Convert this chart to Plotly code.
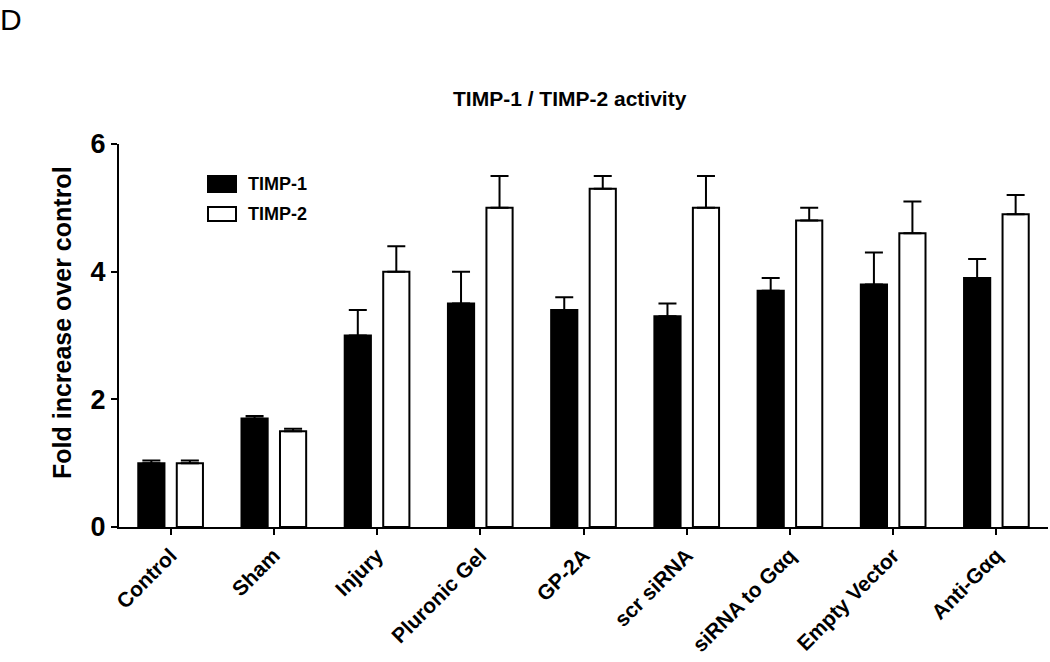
import plotly.graph_objects as go

categories = ["Control", "Sham", "Injury", "Pluronic Gel", "GP-2A", "scr siRNA",
              "siRNA to Gαq", "Empty Vector", "Anti-Gαq"]
timp1 = [1.0, 1.7, 3.0, 3.5, 3.4, 3.3, 3.7, 3.8, 3.9]
timp1_err = [0.04, 0.04, 0.4, 0.5, 0.2, 0.2, 0.2, 0.5, 0.3]
timp2 = [1.0, 1.5, 4.0, 5.0, 5.3, 5.0, 4.8, 4.6, 4.9]
timp2_err = [0.04, 0.04, 0.4, 0.5, 0.2, 0.5, 0.2, 0.5, 0.3]
y_ticks = [0, 2, 4, 6]

FONT = "Liberation Sans, Arial, sans-serif"

fig = go.Figure()
fig.add_trace(go.Bar(
    x=categories, y=timp1, name="TIMP-1",
    marker=dict(color="black", line=dict(color="black", width=2)),
    error_y=dict(type="data", array=timp1_err, arrayminus=[0] * len(timp1),
                 symmetric=False, color="black", thickness=2, width=9),
    showlegend=False,
))
fig.add_trace(go.Bar(
    x=categories, y=timp2, name="TIMP-2",
    marker=dict(color="white", line=dict(color="black", width=2)),
    error_y=dict(type="data", array=timp2_err, arrayminus=[0] * len(timp2),
                 symmetric=False, color="black", thickness=2, width=9),
    showlegend=False,
))

W, H = 1050, 662
L, R, T, B = 119, 2, 144, 135

def px_x(px):
    return (px - L) / (W - L - R)

def px_y(py):
    return (H - B - py) / (H - T - B)

shapes = [
    dict(type="rect", xref="paper", yref="paper",
         x0=px_x(208), x1=px_x(236), y0=px_y(192), y1=px_y(176),
         fillcolor="black", line=dict(color="black", width=2)),
    dict(type="rect", xref="paper", yref="paper",
         x0=px_x(208), x1=px_x(236), y0=px_y(221), y1=px_y(207),
         fillcolor="white", line=dict(color="black", width=2)),
]
annotations = [
    dict(text="TIMP-1", xref="paper", yref="paper", x=px_x(246), y=px_y(184),
         xanchor="left", yanchor="middle", showarrow=False,
         font=dict(family=FONT, size=18, color="black", weight="bold")),
    dict(text="TIMP-2", xref="paper", yref="paper", x=px_x(246), y=px_y(214),
         xanchor="left", yanchor="middle", showarrow=False,
         font=dict(family=FONT, size=18, color="black", weight="bold")),
    dict(text="TIMP-1 / TIMP-2 activity", xref="paper", yref="paper",
         x=px_x(570), y=px_y(98), xanchor="center", yanchor="middle", showarrow=False,
         font=dict(family=FONT, size=21, color="black", weight="bold")),
    dict(text="D", xref="paper", yref="paper", x=px_x(-2), y=px_y(19),
         xanchor="left", yanchor="middle", showarrow=False,
         font=dict(family=FONT, size=30, color="black")),
    dict(text="Fold increase over control", xref="paper", yref="paper",
         x=px_x(62), y=px_y(323), xanchor="center", yanchor="middle",
         textangle=-90, showarrow=False,
         font=dict(family=FONT, size=25, color="black", weight="bold")),
]

fig.update_layout(
    width=W, height=H,
    margin=dict(l=L, r=R, t=T, b=B, pad=0),
    paper_bgcolor="white", plot_bgcolor="white",
    barmode="group", bargap=0.254, bargroupgap=0.32,
    font=dict(family=FONT, color="black"),
    shapes=shapes, annotations=annotations,
    xaxis=dict(
        range=[-0.5, 8.5], showline=True, linecolor="black", linewidth=2,
        ticks="outside", ticklen=6, tickwidth=2, tickcolor="black",
        tickangle=-45, showgrid=False, zeroline=False, automargin=False,
        tickfont=dict(family=FONT, size=21, color="black", weight="bold"),
    ),
    yaxis=dict(
        range=[0, 6], tickvals=y_ticks, showline=True, linecolor="black", linewidth=2,
        ticks="outside", ticklen=6, tickwidth=2, tickcolor="black",
        showgrid=False, zeroline=False, automargin=False,
        tickfont=dict(family=FONT, size=27, color="black", weight="bold"),
    ),
)

fig.write_html("out.html", config={"displayModeBar": False},
               post_script="document.body.style.margin='0';document.body.style.overflow='hidden';")
